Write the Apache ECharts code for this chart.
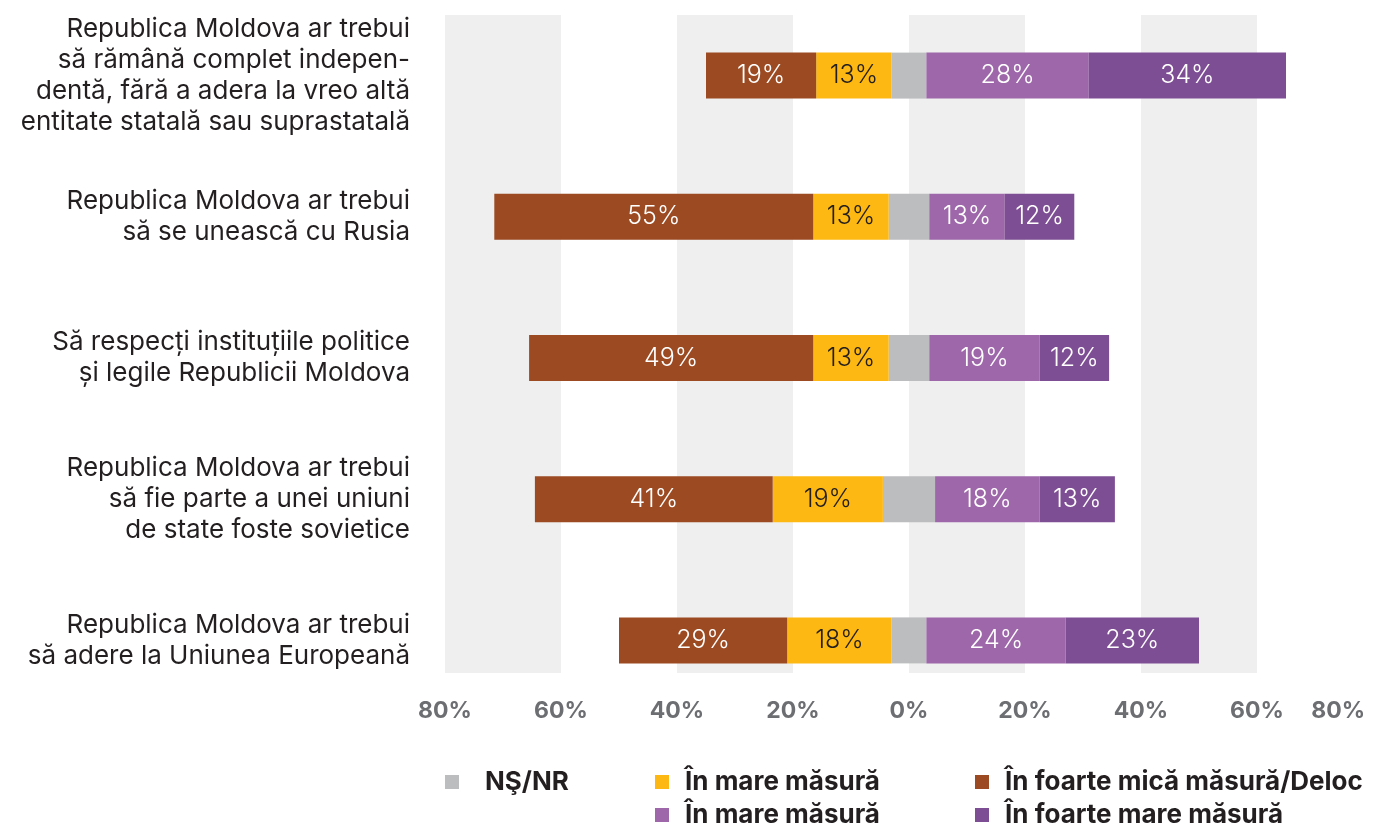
<!DOCTYPE html>
<html>
<head>
  <meta charset="utf-8">
  <title></title>
  <style>
    html, body {
      margin: 0;
      padding: 0;
      background: #fff;
    }

    #chart {
      width: 1373px;
      height: 828px;
    }
  </style>
</head>
<body>
<div id="chart"></div>
<script src="https://cdn.jsdelivr.net/npm/echarts@6/dist/echarts.min.js"></script>
<script>
  // 数据
  var categories = [
    'Republica Moldova ar trebui\nsă rămână complet indepen-\ndentă, fără a adera la vreo altă\nentitate statală sau suprastatală',
    'Republica Moldova ar trebui\nsă se unească cu Rusia',
    'Să respecți instituțiile politice\nși legile Republicii Moldova',
    'Republica Moldova ar trebui\nsă fie parte a unei uniuni\nde state foste sovietice',
    'Republica Moldova ar trebui\nsă adere la Uniunea Europeană'
  ];
  var nsnr = [6, 7, 7, 9, 6];
  var micaMasura = [13, 13, 13, 19, 18];
  var foarteMica = [19, 55, 49, 41, 29];
  var mareMasura = [28, 13, 19, 18, 24];
  var foarteMare = [34, 12, 12, 13, 23];
  var legendNames = {
    ns: 'NŞ/NR',
    mica: 'În mare măsură',
    foarteMica: 'În foarte mică măsură/Deloc',
    mare: 'În mare măsură',
    foarteMare: 'În foarte mare măsură'
  };

  var font = 'Inter, "Noto Sans", sans-serif';
  var chart = echarts.init(document.getElementById('chart'), null, {renderer: 'canvas'});

  function neg(arr) {
    return arr.map(function (v) { return -v; });
  }

  function half(arr, sign) {
    return arr.map(function (v) { return sign * v / 2; });
  }

  function pct(p) {
    return Math.abs(p.value) + '%';
  }

  function barSeries(name, data, color, labelColor) {
    return {
      name: name,
      type: 'bar',
      xAxisIndex: 1,
      yAxisIndex: 1,
      stack: 'total',
      barWidth: 46,
      data: data,
      itemStyle: {color: color},
      label: {
        show: !!labelColor,
        position: 'inside',
        formatter: pct,
        color: labelColor,
        fontFamily: font,
        fontWeight: 300,
        fontSize: 25
      },
      emphasis: {disabled: true}
    };
  }

  // 图例：每项单独一个 legend，位置手动摆
  function legendItem(key, left, top, gap) {
    return {
      left: left, top: top, padding: 0,
      itemWidth: 14, itemHeight: 14, icon: 'rect',
      data: [key],
      textStyle: {
        fontFamily: font, fontSize: 26, fontWeight: 'bold', color: '#231f20',
        lineHeight: 30, padding: [0, 0, 0, gap]
      },
      formatter: function (n) { return legendNames[n]; },
      selectedMode: false
    };
  }

  var option = {
    animation: false,
    grid: [
      {left: 445, right: -4, top: 15, bottom: 155},
      {left: 445, right: -4, top: 5, bottom: 117}
    ],
    xAxis: [
      {
        gridIndex: 0, type: 'value', min: -80, max: 80, interval: 20,
        axisLine: {show: false}, axisTick: {show: false}, splitLine: {show: false},
        splitArea: {show: true, areaStyle: {color: ['#efefef', '#ffffff']}},
        axisLabel: {
          margin: 27,
          fontFamily: font, fontSize: 23, fontWeight: 'bold', color: '#6d6e71',
          alignMaxLabel: 'right',
          formatter: function (v) {
            // 最右边的标签往里收一点
            return v === 80 ? '{r|80%}' : Math.abs(v) + '%';
          },
          rich: {
            r: {
              fontFamily: font, fontSize: 23, fontWeight: 'bold', color: '#6d6e71',
              padding: [0, 8, 0, 0]
            }
          }
        }
      },
      {
        gridIndex: 1, type: 'value', min: -80, max: 80, interval: 20, show: false
      }
    ],
    yAxis: [
      {gridIndex: 0, type: 'value', show: false, min: 0, max: 1},
      {
        gridIndex: 1, type: 'category', inverse: true, data: categories,
        axisLine: {show: false}, axisTick: {show: false},
        axisLabel: {
          margin: 35, fontFamily: font, fontSize: 26, lineHeight: 31, color: '#231f20'
        }
      }
    ],
    legend: [
      legendItem('ns', 445, 767, 21),
      legendItem('mica', 655, 767, 11),
      legendItem('mare', 655, 800, 11),
      legendItem('foarteMica', 975, 767, 11),
      legendItem('foarteMare', 975, 800, 11)
    ],
    series: [
      barSeries('ns', half(nsnr, -1), '#bcbdbf', null),
      barSeries('mica', neg(micaMasura), '#fdb813', '#231f20'),
      barSeries('foarteMica', neg(foarteMica), '#9c4a22', '#ffffff'),
      barSeries('ns', half(nsnr, 1), '#bcbdbf', null),
      barSeries('mare', mareMasura, '#9d67a9', '#ffffff'),
      barSeries('foarteMare', foarteMare, '#7d4e93', '#ffffff')
    ]
  };
  chart.setOption(option);

  window.onresize = function () {
    chart.resize();
  };
</script>
</body>
</html>
